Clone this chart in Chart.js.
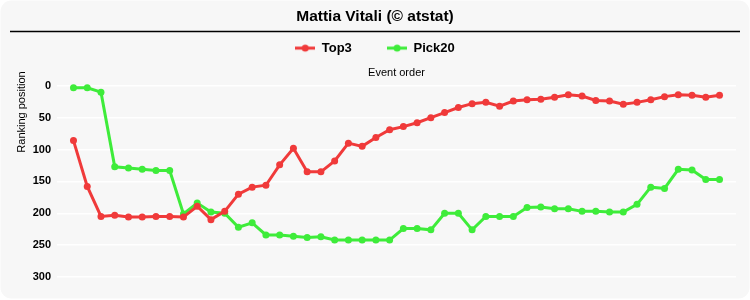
<!DOCTYPE html>
<html>
<head>
<meta charset="utf-8">
<script src="https://cdn.jsdelivr.net/npm/chart.js@4/dist/chart.umd.min.js"></script>
<style>
  html, body { margin: 0; padding: 0; background: #fff; }
  #wrap { width: 750px; height: 300px; position: relative; }
</style>
</head>
<body>
<div id="wrap"><canvas id="rankChart" width="750" height="300"></canvas></div>
<script>
// ===== data =====
const events = [];
for (let i = 1; i <= 48; i++) events.push(i);

const top3 = [86, 158, 205, 203, 206, 206, 205, 205, 206, 189, 210, 197, 170, 159, 156, 124,
  98, 135, 135, 118, 90, 95, 81, 69, 64, 58, 50, 42, 34, 28, 26, 32,
  24, 22, 21, 18, 14, 16, 23, 24, 29, 26, 22, 17, 14, 15, 18, 15];

const pick20 = [3, 3, 10, 127, 129, 131, 133, 133, 201, 184, 198, 200, 222, 215, 234, 234,
  236, 238, 237, 242, 242, 242, 242, 242, 224, 224, 226, 200, 200, 226, 205, 205,
  205, 191, 190, 193, 193, 197, 197, 198, 198, 186, 159, 161, 131, 132, 147, 147];

const yTicks = [0, 50, 100, 150, 200, 250, 300];

const RED = '#f03a3a';
const GREEN = '#3eec3a';
const FONT = "'Liberation Sans', Arial, sans-serif";

// legend swatch: short line with a dot
function swatch(color) {
  const c = document.createElement('canvas');
  c.width = 20; c.height = 10;
  const g = c.getContext('2d');
  g.strokeStyle = color; g.lineWidth = 3;
  g.beginPath(); g.moveTo(0, 5); g.lineTo(20, 5); g.stroke();
  g.fillStyle = color;
  g.beginPath(); g.arc(10, 5, 3.5, 0, Math.PI * 2); g.fill();
  return c;
}

// rounded grey box, rule under the title, y axis title
const boxPlugin = {
  id: 'box',
  beforeDraw(chart) {
    const g = chart.ctx;
    g.save();
    g.fillStyle = '#f7f7f7';
    g.beginPath();
    g.roundRect(0.5, 0.5, 749, 298, 11);
    g.fill();
    g.strokeStyle = '#000';
    g.lineWidth = 1.5;
    g.beginPath(); g.moveTo(10, 31.5); g.lineTo(740, 31.5); g.stroke();
    g.restore();
  },
  afterDraw(chart) {
    const g = chart.ctx;
    g.save();
    g.translate(22, 112);
    g.rotate(-Math.PI / 2);
    g.fillStyle = '#000';
    g.font = '11px ' + FONT;
    g.textAlign = 'center';
    g.textBaseline = 'middle';
    g.fillText('Ranking position', 0, 0);
    g.restore();
  }
};

const series = (arr) => arr.map((v, i) => ({ x: events[i], y: v }));

const ctx = document.getElementById('rankChart').getContext('2d');
const rankChart = new Chart(ctx, {
  type: 'line',
  data: {
    datasets: [
      { label: 'Top3', data: series(top3), borderColor: RED, backgroundColor: RED,
        borderWidth: 3, pointRadius: 3.5, pointBorderWidth: 0, tension: 0 },
      { label: 'Pick20', data: series(pick20), borderColor: GREEN, backgroundColor: GREEN,
        borderWidth: 3, pointRadius: 3.5, pointBorderWidth: 0, tension: 0 },
    ]
  },
  options: {
    responsive: false,
    animation: false,
    clip: false,
    layout: { padding: { left: 14, right: 14, top: 0, bottom: 23 } },
    plugins: {
      title: {
        display: true, text: 'Mattia Vitali (© atstat)', color: '#000',
        font: { family: FONT, size: 15.5, weight: 'bold' },
        padding: { top: 7, bottom: 6 }
      },
      legend: {
        position: 'top',
        labels: {
          usePointStyle: true,
          pointStyleWidth: 20,
          color: '#000',
          font: { family: FONT, size: 13, weight: 'bold' },
          padding: 10,
          generateLabels(chart) {
            // trailing spaces widen the gap between the two items
            return chart.data.datasets.map((ds, i) => ({
              text: i === 0 ? ds.label + '\u00a0\u00a0\u00a0\u00a0\u00a0\u00a0\u00a0' : ds.label,
              fillStyle: ds.borderColor, strokeStyle: ds.borderColor,
              pointStyle: swatch(ds.borderColor), datasetIndex: i, lineWidth: 0,
              fontColor: '#000'
            }));
          }
        }
      },
      tooltip: { enabled: false }
    },
    scales: {
      x: {
        type: 'linear', position: 'top', min: -0.2, max: 49.2,
        grid: { display: false, drawTicks: false },
        border: { display: false },
        ticks: { display: false },
        title: { display: true, text: 'Event order', color: '#000',
          font: { family: FONT, size: 11 }, padding: { top: 2, bottom: 6 } }
      },
      y: {
        reverse: true, min: 0, max: 300,
        afterBuildTicks(scale) { scale.ticks = yTicks.map(v => ({ value: v })); },
        afterFit(scale) { scale.width = 43; },
        grid: { color: '#ffffff', lineWidth: 1.5, drawTicks: false },
        border: { display: false },
        ticks: { color: '#000', padding: 6, font: { family: FONT, size: 11, weight: 'bold' } }
      }
    }
  },
  plugins: [boxPlugin]
});
</script>
</body>
</html>
